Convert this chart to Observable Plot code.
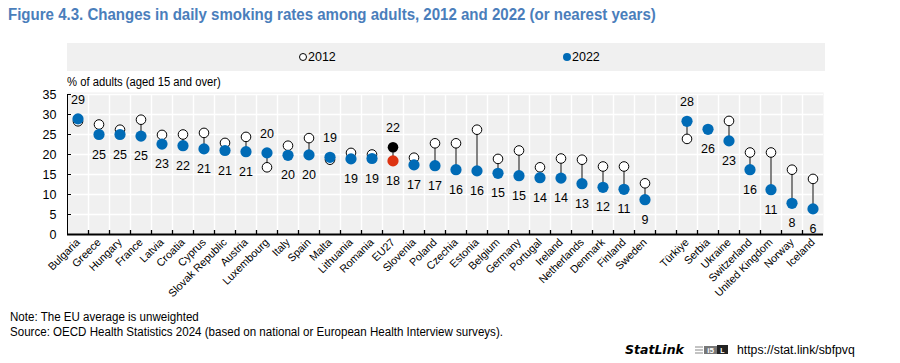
<!DOCTYPE html>
<html><head><meta charset="utf-8">
<script src="https://cdn.jsdelivr.net/npm/d3@7"></script>
<script src="https://cdn.jsdelivr.net/npm/@observablehq/plot@0.6"></script>
<style>
body{margin:0;background:#fff;}
#wrap{position:relative;width:900px;height:363px;overflow:hidden;font-family:"Liberation Sans Narrow","Arial Narrow","Liberation Sans",Arial,sans-serif;color:#000;}
.sx{display:inline-block;transform-origin:0 50%;white-space:nowrap;}
#title{position:absolute;left:8px;top:6px;font-size:16px;font-weight:bold;color:#4a7ebb;white-space:nowrap;}
#title .sx{transform:scaleX(0.94);}
#legend{position:absolute;left:67px;top:43px;width:758px;height:28px;background:#f0f0f0;}
.lg{position:absolute;top:6px;font-size:12.5px;line-height:16px;white-space:nowrap;}
.sym{display:inline-block;width:8px;height:8px;border-radius:50%;margin-right:1px;box-sizing:border-box;}
#ylab{position:absolute;left:67px;top:75px;font-size:12.5px;white-space:nowrap;}
#ylab .sx{transform:scaleX(0.9);}
#chart{position:absolute;left:0;top:0;}
#foot{position:absolute;left:10px;top:310px;font-size:12.5px;line-height:14.7px;white-space:nowrap;}
#foot .sx{transform:scaleX(0.925);}
#statlink{position:absolute;left:625px;top:340px;white-space:nowrap;height:16px;}
#sl1{font-family:"DejaVu Sans",sans-serif;font-weight:bold;font-style:italic;font-size:12.5px;}
#logo{display:inline-block;margin:0 9px 0 10px;vertical-align:-1px;}
#url{display:inline-block;font-size:12.5px;transform:scaleX(0.98);transform-origin:0 50%;}
</style></head>
<body>
<div id="wrap">
  <div id="title"><span class="sx">Figure 4.3. Changes in daily smoking rates among adults, 2012 and 2022 (or nearest years)</span></div>
  <div id="legend"></div>
  <div id="ylab"><span class="sx">% of adults (aged 15 and over)</span></div>
  <div id="chart"></div>
  <div id="foot"><span class="sx">Note: The EU average is unweighted</span><br><span class="sx">Source: OECD Health Statistics 2024 (based on national or European Health Interview surveys).</span></div>
  <div id="statlink"><span id="sl1">StatLink</span><svg id="logo" width="34" height="10" viewBox="0 0 34 10"><g stroke="#888" stroke-width="1"><line x1="1" y1="2" x2="9" y2="2"/><line x1="1" y1="5" x2="9" y2="5"/><line x1="1" y1="8" x2="9" y2="8"/></g><rect x="10" y="1" width="13" height="8" fill="#777"/><text x="16.5" y="8" font-size="8" font-family="Liberation Sans" font-weight="bold" fill="#fff" text-anchor="middle">i5</text><rect x="23" y="0" width="11" height="9" fill="#222"/><text x="28.5" y="7.5" font-size="7" font-family="Liberation Sans" font-weight="bold" fill="#fff" text-anchor="middle">L</text></svg><span id="url">https://stat.link/sbfpvq</span></div>
</div>
<script>
// ---- Data ----
const countriesEU = ["Bulgaria","Greece","Hungary","France","Latvia","Croatia","Cyprus","Slovak Republic","Austria","Luxembourg","Italy","Spain","Malta","Lithuania","Romania","EU27","Slovenia","Poland","Czechia","Estonia","Belgium","Germany","Portugal","Ireland","Netherlands","Denmark","Finland","Sweden"];
const rate2012EU = [28.3,27.5,26.2,28.7,24.9,25.0,25.4,22.9,24.4,16.8,22.2,24.1,18.7,20.4,20.0,21.8,19.2,22.8,22.8,26.2,18.9,21.0,16.8,19.0,18.7,17.0,17.0,12.8];
const rate2022EU = [28.9,25.0,25.0,24.6,22.6,22.2,21.4,21.0,20.7,20.4,19.8,19.9,19.3,18.9,19.0,18.4,17.4,17.2,16.2,15.9,15.3,14.7,14.2,14.1,12.7,11.8,11.3,8.7];
const label2022EU = [29,25,25,25,23,22,21,21,21,20,20,20,19,19,19,18,17,17,16,16,15,15,14,14,13,12,11,9];

const countriesOther = ["Türkiye","Serbia","Ukraine","Switzerland","United Kingdom","Norway","Iceland"];
const rate2012Other = [23.9,null,28.4,20.5,20.5,16.2,13.9];
const rate2022Other = [28.3,26.3,23.4,16.2,11.2,7.8,6.4];
const label2022Other = [28,26,23,16,11,8,6];

const euAverageName = "EU27";
const label2012EU27 = 22;
const yTicks = [0,5,10,15,20,25,30,35];

// ---- Build rows ----
const rows = [];
countriesEU.forEach((c,k)=>rows.push({c, i:k, v12:rate2012EU[k], v22:rate2022EU[k], lab:label2022EU[k]}));
countriesOther.forEach((c,k)=>rows.push({c, i:countriesEU.length+1+k, v12:rate2012Other[k], v22:rate2022Other[k], lab:label2022Other[k]}));
const nSlots = countriesEU.length + 1 + countriesOther.length;
const isEU = d => d.c === euAverageName;
const above = rows.filter(d => d.v12 != null && d.v22 > d.v12);
const below = rows.filter(d => !(d.v12 != null && d.v22 > d.v12));
const bounds = d3.range(1, nSlots).map(k => k - 0.5);
const names = new Map(rows.map(d => [d.i, d.c]));

const BLUE = "#006bb6", RED = "#dd3311";
const W = 900, H = 312, ML = 67, MR = 77, MT = 94, MB = 78;
const plotW = W - ML - MR, plotH = H - MT - MB;

const chart = Plot.plot({
  width: W, height: H,
  marginLeft: ML, marginRight: MR, marginTop: MT, marginBottom: MB,
  style: {fontFamily: '"Liberation Sans Narrow","Arial Narrow","Liberation Sans",Arial,sans-serif', fontSize: "12.5px", color: "#000", background: "transparent"},
  x: {type: "linear", domain: [-0.5, nSlots - 0.5], axis: null},
  y: {domain: [0, 35], axis: null},
  marks: [
    Plot.frame({fill: "#f0f0f0", stroke: null, insetTop: -2}),
    Plot.ruleY(yTicks.slice(1), {stroke: "white", strokeWidth: 1.4}),
    Plot.ruleX(bounds, {stroke: "white", strokeWidth: 1.4}),
    Plot.ruleX([-0.5], {stroke: "black", strokeWidth: 1}),
    Plot.tickY(yTicks, {stroke: "black", insetRight: plotW - 4}),
    Plot.tickX(bounds, {stroke: "black", strokeWidth: 1.3, insetTop: plotH - 4}),
    Plot.ruleY([0], {stroke: "black", strokeWidth: 1.8}),
    Plot.axisY(yTicks, {anchor: "left", tickSize: 0, tickPadding: 11, label: null, fontSize: 12.5}),
    Plot.axisX(rows.map(d => d.i), {anchor: "bottom", tickSize: 0, tickPadding: 6, tickRotate: -45, tickFormat: i => names.get(i), label: null, fontSize: 10.8}),
    Plot.ruleX(rows.filter(d => d.v12 != null), {x: "i", y1: "v12", y2: "v22", stroke: "#666", strokeWidth: 1.6}),
    Plot.dot(rows.filter(d => d.v12 != null && !isEU(d)), {x: "i", y: "v12", r: 4.8, fill: "white", stroke: "black", strokeWidth: 1}),
    Plot.dot(rows.filter(isEU), {x: "i", y: "v12", r: 5.3, fill: "black"}),
    Plot.dot(rows, {x: "i", y: "v22", r: 5.6, fill: d => isEU(d) ? RED : BLUE}),
    Plot.text(above, {x: "i", y: "v22", text: "lab", dy: -19, fontSize: 12.5, fill: "#000"}),
    Plot.text(below, {x: "i", y: "v22", text: "lab", dy: 20, fontSize: 12.5, fill: "#000"}),
    Plot.text(rows.filter(isEU), {x: "i", y: "v12", text: () => label2012EU27, dy: -19, fontSize: 12.5, fill: "#000"})
  ]
});
document.getElementById("chart").appendChild(chart);

// Legend
const lg = document.getElementById("legend");
const items = [{t:"2012", x:232, open:true},{t:"2022", x:496, open:false}];
items.forEach(it => {
  const el = document.createElement("div");
  el.className = "lg";
  el.style.left = it.x + "px";
  const s = document.createElement("span");
  s.className = "sym";
  s.style.background = it.open ? "white" : BLUE;
  s.style.border = it.open ? "1px solid black" : "none";
  el.appendChild(s);
  el.appendChild(document.createTextNode(it.t));
  lg.appendChild(el);
});
</script>
</body></html>
